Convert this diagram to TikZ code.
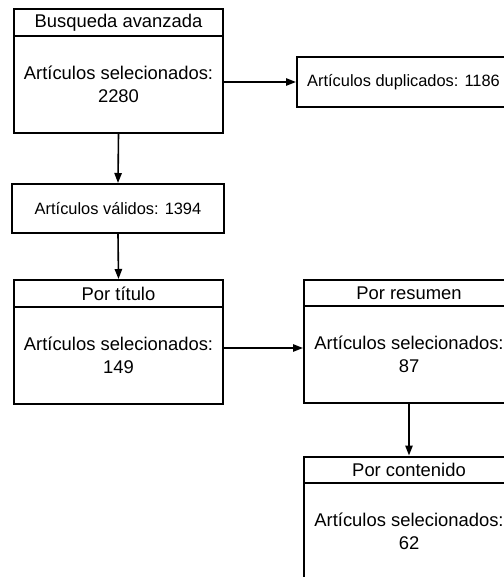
\documentclass[tikz,border=0pt]{standalone}
\usepackage{fontspec}
\setmainfont{Liberation Sans}
\usetikzlibrary{arrows.meta}
\tikzset{
  headbox/.style={draw, line width=1.5pt, fill=white, rectangle, inner sep=0pt, minimum height=20.25pt, font=\fontsize{13.8pt}{17.25pt}\selectfont},
  bodybox/.style={draw, line width=1.5pt, fill=white, rectangle, inner sep=0pt, align=center, minimum height=72.75pt, font=\fontsize{13.8pt}{17.25pt}\selectfont},
  countbox/.style={draw, line width=1.5pt, fill=white, rectangle, inner sep=0pt, font=\fontsize{12.3pt}{15pt}\selectfont},
  flowarrow/.style={line width=1.2pt, -{Triangle[length=7.5pt, width=5.5pt]}}
}

\begin{document}
\begin{tikzpicture}[x=0.75pt, y=-0.75pt]%
\useasboundingbox (0,0) rectangle (503,577);%
% busqueda
\node[headbox, minimum width=156.75pt] (busqhead) at (118.5, 22.5) {Busqueda avanzada};%
\node[bodybox, minimum width=156.75pt] (busqbody) at (118.5, 84.5) {Artículos selecionados:\\2280};%
\node[countbox, minimum width=159.75pt, minimum height=37.5pt] (duplic) at (403.5, 82) {Artículos duplicados: 1186};%
\node[countbox, minimum width=159pt, minimum height=36.75pt] (validos) at (118, 208.5) {Artículos válidos: 1394};%
% titulo
\node[headbox, minimum width=156.75pt] (tithead) at (118.5, 293.5) {Por título};%
\node[bodybox, minimum width=156.75pt] (titbody) at (118.5, 355) {Artículos selecionados:\\149};%
% resumen
\node[headbox, minimum width=157.5pt] (reshead) at (409, 293) {Por resumen};%
\node[bodybox, minimum width=157.5pt] (resbody) at (409, 354.5) {Artículos selecionados:\\87};%
% contenido
\node[headbox, minimum width=157.5pt] (conthead) at (409, 470) {Por contenido};%
\node[bodybox, minimum width=157.5pt] (contbody) at (409, 531.5) {Artículos selecionados:\\62};%
% flechas
\draw[flowarrow] (busqbody.east |- duplic.west) -- (duplic.west);%
\draw[flowarrow] (busqbody.south) -- (validos.north);%
\draw[flowarrow] (validos.south) -- (tithead.north);%
\draw[flowarrow] ([yshift=5.25pt]titbody.east) -- ([yshift=5.25pt]titbody.east -| resbody.west);%
\draw[flowarrow] (resbody.south) -- (conthead.north);%
\end{tikzpicture}
\end{document}
